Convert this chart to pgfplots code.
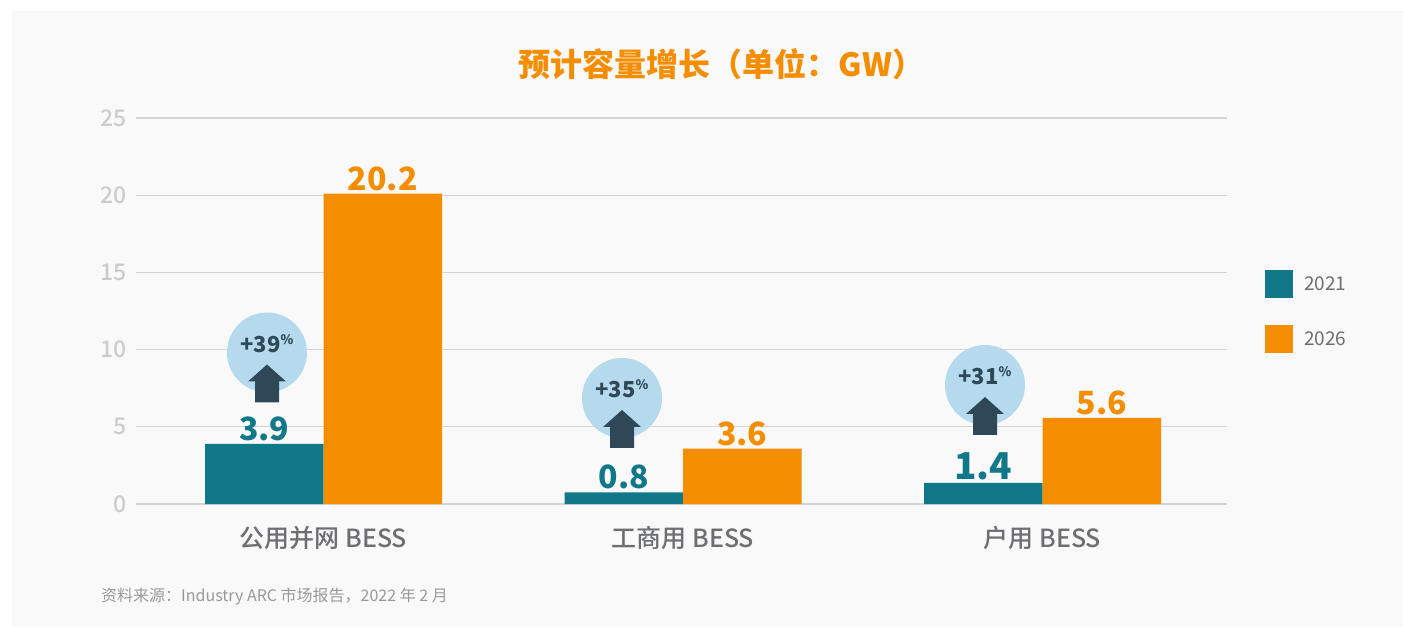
\documentclass[border=0pt]{standalone}
\usepackage{fontspec}
\usepackage{pgfplots}
\pgfplotsset{compat=1.18}
\setmainfont{Noto Sans CJK SC}
\newfontfamily\med{Noto Sans CJK SC Medium}
\definecolor{teal1}{HTML}{107888}
\definecolor{orange1}{HTML}{F48D00}
\definecolor{panel}{HTML}{F9F9F9}
\definecolor{gridc}{HTML}{D4D4D6}
\definecolor{tickc}{HTML}{CCCCCC}
\definecolor{labc}{HTML}{6D6E71}
\definecolor{srcc}{HTML}{999999}
\definecolor{bub}{HTML}{B5DAED}
\definecolor{arr}{HTML}{2F4858}
\newcommand{\fs}[1]{\fontsize{#1}{#1}\selectfont}
\begin{document}
\begin{tikzpicture}[x=1pt,y=1pt]
\fill[white] (0,0) rectangle (1403,627);
\fill[panel] (12,0) rectangle (1403,616);
\begin{axis}[
  at={(136pt,123pt)}, anchor=south west,
  scale only axis, width=1091pt, height=386pt,
  xmin=-0.5217, xmax=2.5131, ymin=0, ymax=25,
  ytick={0,5,10,15,20,25},
  xtick={0,1,2}, xticklabels={公用并网 BESS,工商用 BESS,户用 BESS},
  ymajorgrids, major grid style={gridc,line width=1.2pt},
  axis line style={draw=none},
  major tick length=0pt,
  /pgf/number format/assume math mode=true,
  yticklabel style={font=\med\fs{23}, text=tickc, xshift=-6pt},
  xticklabel style={font=\med\fs{25}, text=labc, yshift=-19pt},
  ybar, bar width=118.5pt,
  nodes near coords,
  point meta=explicit symbolic,
  every node near coord/.append style={font=\bfseries\fs{32}, inner sep=0pt, yshift=3pt},
  clip=false,
  legend style={at={(1129pt,192pt)}, anchor=west, draw=none, fill=none, font=\fs{19}, text=labc,
     row sep=27pt, inner sep=0pt, legend cell align=left},
  legend image code/.code={\fill[#1,draw=none] (1pt,-14pt) rectangle (29pt,14pt); \path (38pt,0);},
]
\addplot[fill=teal1, draw=none, bar shift=-59.25pt, every node near coord/.append style={text=teal1}]
  coordinates {(0,3.9)[3.9] (1,0.75)[0.8] (2,1.37)[{\fs{37}1.4}]};
\addlegendentry{2021}
\addplot[fill=orange1, draw=none, bar shift=59.25pt, every node near coord/.append style={text=orange1}]
  coordinates {(0,20.1)[20.2] (1,3.58)[3.6] (2,5.58)[5.6]};
\addlegendentry{2026}
\end{axis}
\begin{scope}[shift={(0,627)},y=-1pt]
\node[font=\bfseries\fs{32},text=orange1] at (721.5,64) {预计容量增长（单位：GW）};
\node[font=\fs{16},text=srcc,anchor=west,inner sep=0pt] at (101,597) {资料来源：Industry ARC 市场报告，2022 年 2 月};
\foreach \cx/\cy/\lab in {267/352.5/39, 622/398/35, 985/385/31}{
  \fill[bub] (\cx,\cy) circle (40);
  \fill[arr] (\cx,\cy+12) -- (\cx+19,\cy+29) -- (\cx+12,\cy+29) -- (\cx+12,\cy+50) -- (\cx-12,\cy+50) -- (\cx-12,\cy+29) -- (\cx-19,\cy+29) -- cycle;
  \node[font=\bfseries\fs{22},text=arr,inner sep=0pt] at (\cx,\cy-9) {+\lab\raisebox{8pt}{\bfseries\fs{13}\%}};
}
\end{scope}
\end{tikzpicture}
\end{document}
